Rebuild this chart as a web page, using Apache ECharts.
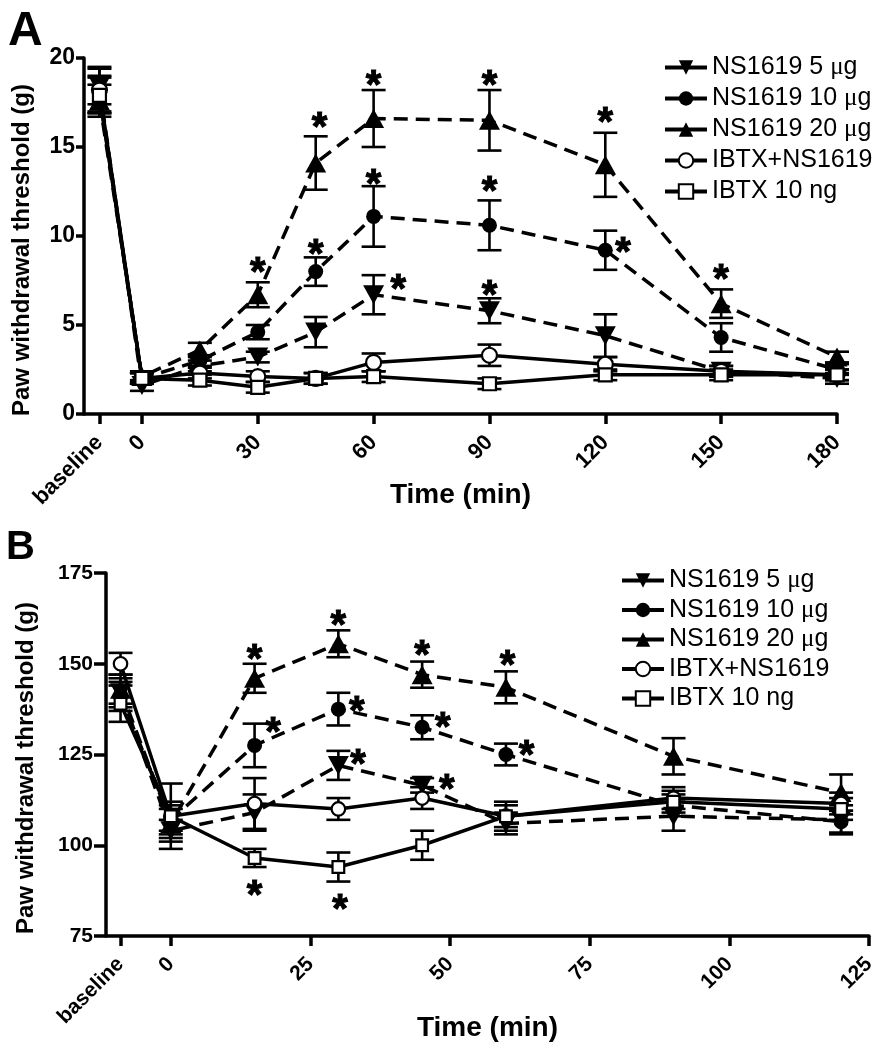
<!DOCTYPE html>
<html><head><meta charset="utf-8">
<script src="https://cdn.jsdelivr.net/npm/echarts@6/dist/echarts.min.js"></script>
<style>html,body{margin:0;padding:0;background:#fff}#c{width:882px;height:1050px}</style>
</head><body><div id="c"></div>
<script>
// ---------- shared ----------
const seriesNames = ['NS1619 5 μg', 'NS1619 10 μg', 'NS1619 20 μg', 'IBTX+NS1619', 'IBTX 10 ng'];

// ---------- Panel A ----------
const timesA = [-11, 0, 15, 30, 45, 60, 90, 120, 150, 180]; // -11 = "baseline"
const tickValuesA = [-11, 0, 30, 60, 90, 120, 150, 180];
const tickLabelsA = ['baseline', '0', '30', '60', '90', '120', '150', '180'];
const ns5A      = [18.4, 1.6, 2.7, 3.2, 4.6, 6.7, 5.8, 4.4, 2.4, 2.0];
const ns5A_err  = [1.0, 0.3, 0.3, 0.3, 0.85, 1.1, 0.7, 1.2, 0.3, 0.3];
const ns10A     = [18.0, 2.0, 3.0, 4.6, 8.0, 11.1, 10.6, 9.2, 4.3, 2.5];
const ns10A_err = [1.0, 0.3, 0.3, 0.4, 0.8, 1.7, 1.4, 1.1, 0.8, 0.3];
const ns20A     = [17.6, 2.1, 3.6, 6.7, 14.1, 16.6, 16.5, 14.0, 6.2, 3.2];
const ns20A_err = [0.9, 0.3, 0.4, 0.7, 1.5, 1.6, 1.7, 1.8, 0.8, 0.3];
const ibnsA     = [18.2, 2.0, 2.3, 2.1, 2.0, 2.9, 3.3, 2.8, 2.4, 2.2];
const ibnsA_err = [1.3, 0.3, 0.3, 0.3, 0.3, 0.5, 0.6, 0.4, 0.3, 0.3];
const ibA       = [17.9, 2.0, 1.9, 1.5, 2.0, 2.1, 1.7, 2.2, 2.2, 2.2];
const ibA_err   = [1.0, 0.3, 0.3, 0.3, 0.3, 0.3, 0.3, 0.3, 0.3, 0.3];
const starsA = [[30, 8.4], [46, 16.5], [60, 18.9], [90, 18.9], [120, 16.8], [150, 8.0],
                [45, 9.4], [60, 13.3], [90, 12.9], [124.6, 9.5], [66.4, 7.4], [90, 7.1]];

// ---------- Panel B ----------
const timesB = [-9, 0, 15, 30, 45, 60, 90, 120]; // -9 = "baseline"
const tickValuesB = [-9, 0, 25, 50, 75, 100, 125];
const tickLabelsB = ['baseline', '0', '25', '50', '75', '100', '125'];
const ns5B      = [142, 104, 109, 122, 116.5, 106, 108, 107];
const ns5B_err  = [4, 3, 5, 4, 2, 3, 4, 4];
const ns10B     = [141, 107, 127.5, 137.5, 132.5, 125, 111, 106.5];
const ns10B_err = [4, 4, 6, 4.5, 3.3, 3, 3, 3];
const ns20B     = [143, 106, 146, 155.5, 147, 143.5, 124.5, 114.5];
const ns20B_err = [4, 4, 4, 3.7, 3.6, 4.4, 5, 5];
const ibnsB     = [150, 108, 111.5, 110, 113, 108, 113, 111.5];
const ibnsB_err = [3, 9, 7, 3, 3, 4, 3, 3];
const ibB       = [139, 108, 96.5, 94, 100, 108, 112, 110];
const ibB_err   = [5, 4, 2.5, 4, 4, 3, 3, 3];
const starsB = [[15, 153.2], [30, 162.6], [45, 154.3], [60.3, 151.6], [18.3, 133], [33.3, 139],
                [48.7, 134.5], [63.7, 126.8], [33.5, 124.3], [49.4, 117.4], [15, 88.2], [30.3, 84.4]];

// ---------- build ----------
const FONT = '"Liberation Sans", Arial, sans-serif';
const downTri = 'path://M0,0L20,0L10,18Z';
const styles = [
  {symbol: downTri, size: [21, 19], dashed: true, empty: false},
  {symbol: 'circle', size: 15, dashed: true, empty: false},
  {symbol: 'triangle', size: [21, 19], dashed: true, empty: false},
  {symbol: 'circle', size: 15, dashed: false, empty: true},
  {symbol: 'rect', size: 13, dashed: false, empty: true}
];

function zip(xs, ys) { return xs.map((x, i) => [x, ys[i]]); }
function errData(xs, ys, es) { return xs.map((x, i) => [x, ys[i] - es[i], ys[i] + es[i]]); }

function errRender(params, api) {
  const x = api.value(0), lo = api.value(1), hi = api.value(2);
  const p1 = api.coord([x, hi]), p2 = api.coord([x, lo]);
  const w = 12;
  const st = {stroke: '#000', lineWidth: 2.6, fill: null};
  return {type: 'group', children: [
    {type: 'line', shape: {x1: p1[0], y1: p1[1], x2: p2[0], y2: p2[1]}, style: st},
    {type: 'line', shape: {x1: p1[0] - w, y1: p1[1], x2: p1[0] + w, y2: p1[1]}, style: st},
    {type: 'line', shape: {x1: p2[0] - w, y1: p2[1], x2: p2[0] + w, y2: p2[1]}, style: st}
  ]};
}

function panelSeries(idx, suffix, xs, vals, errs, stars, emptyScale) {
  const out = [];
  vals.forEach((v, k) => {
    out.push({
      type: 'custom', xAxisIndex: idx, yAxisIndex: idx, z: 1, silent: true,
      renderItem: errRender, encode: {x: 0, y: [1, 2]},
      data: errData(xs, v, errs[k])
    });
  });
  vals.forEach((v, k) => {
    const s = styles[k];
    let sz = s.size;
    if (emptyScale && s.empty) sz = sz * emptyScale;
    out.push({
      type: 'line', name: seriesNames[k] + suffix, xAxisIndex: idx, yAxisIndex: idx, z: 2 + k,
      data: zip(xs, v), symbol: s.symbol, symbolSize: sz, showAllSymbol: true,
      lineStyle: {color: '#000', width: 3.5, type: s.dashed ? [14, 8] : 'solid'},
      itemStyle: s.empty ? {color: '#fff', borderColor: '#000', borderWidth: 2.2} : {color: '#000', borderWidth: 0},
      emphasis: {disabled: true}
    });
  });
  out.push({
    type: 'scatter', xAxisIndex: idx, yAxisIndex: idx, z: 10, symbolSize: 0, silent: true,
    itemStyle: {opacity: 1, color: '#000'},
    data: stars,
    label: {show: true, formatter: '*', position: 'inside', offset: [0, 9], opacity: 1,
      fontSize: 40, fontWeight: 'bold', color: '#000', fontFamily: FONT,
      textBorderColor: '#000', textBorderWidth: 1}
  });
  return out;
}

function xAxisCfg(idx, min, max, ticks, labels, nameGap, fs) {
  return {
    gridIndex: idx, type: 'value', min: min, max: max,
    axisLine: {show: true, onZero: false, lineStyle: {color: '#000', width: 3.5}},
    axisTick: {show: true, customValues: ticks, length: 10, lineStyle: {color: '#000', width: 3.5}},
    axisLabel: {customValues: ticks, rotate: 45, margin: 25,
      formatter: v => { const i = ticks.indexOf(v); return i >= 0 ? labels[i] : ''; },
      fontSize: fs, fontWeight: 'bold', color: '#000', fontFamily: FONT},
    splitLine: {show: false},
    name: 'Time (min)', nameLocation: 'middle', nameGap: nameGap, nameMoveOverlap: false,
    nameTextStyle: {fontSize: 28, fontWeight: 'bold', color: '#000', fontFamily: FONT}
  };
}
function yAxisCfg(idx, min, max, interval, fs, tl) {
  return {
    gridIndex: idx, type: 'value', min: min, max: max, interval: interval,
    axisLine: {show: true, onZero: false, lineStyle: {color: '#000', width: 3.5}},
    axisTick: {show: true, length: tl, lineStyle: {color: '#000', width: 3.5}},
    axisLabel: {fontSize: fs, fontWeight: 'bold', color: '#000', fontFamily: FONT, margin: tl + 1},
    splitLine: {show: false}
  };
}
function legendCfg(names, left, top, w, gap) {
  return {
    data: names, orient: 'vertical', left: left, top: top, itemWidth: w, itemHeight: 18, itemGap: gap,
    selectedMode: false,
    lineStyle: {type: 'solid', width: 4, color: '#000'},
    formatter: n => n.trim().replace('μ', '{s|μ}'),
    textStyle: {fontSize: 25, color: '#000', fontFamily: FONT,
      rich: {s: {fontSize: 25, fontFamily: '"Liberation Serif", serif', color: '#000'}}}
  };
}

const chart = echarts.init(document.getElementById('c'), null, {renderer: 'canvas'});
const option = {
  animation: false,
  backgroundColor: '#fff',
  grid: [
    {left: 84, top: 58, width: 753, height: 356},
    {left: 106, top: 573, width: 763, height: 363}
  ],
  xAxis: [xAxisCfg(0, -15, 180, tickValuesA, tickLabelsA, 67, 22), xAxisCfg(1, -11.6, 125, tickValuesB, tickLabelsB, 78, 21)],
  yAxis: [yAxisCfg(0, 0, 20, 5, 23, 8), yAxisCfg(1, 75, 175, 25, 21, 12)],
  legend: [
    legendCfg(seriesNames, 658, 50, 42, 6),
    legendCfg(seriesNames.map(n => n + ' '), 615, 563, 42, 4.5)
  ],
  series: [].concat(
    panelSeries(0, '', timesA, [ns5A, ns10A, ns20A, ibnsA, ibA], [ns5A_err, ns10A_err, ns20A_err, ibnsA_err, ibA_err], starsA),
    panelSeries(1, ' ', timesB, [ns5B, ns10B, ns20B, ibnsB, ibB], [ns5B_err, ns10B_err, ns20B_err, ibnsB_err, ibB_err], starsB, 0.9)
  ),
  graphic: [
    {type: 'text', left: 8, top: 8, style: {text: 'A', font: 'bold 48px ' + FONT, fill: '#000'}},
    {type: 'text', left: 6, top: 528, style: {text: 'B', font: 'bold 40px ' + FONT, fill: '#000'}},
    {type: 'text', x: 22, y: 250, rotation: Math.PI / 2,
      style: {text: 'Paw withdrawal threshold (g)', align: 'center', verticalAlign: 'middle', font: 'bold 24px ' + FONT, fill: '#000'}},
    {type: 'text', x: 26, y: 768, rotation: Math.PI / 2,
      style: {text: 'Paw withdrawal threshold (g)', align: 'center', verticalAlign: 'middle', font: 'bold 24px ' + FONT, fill: '#000'}}
  ]
};
chart.setOption(option);
</script></body></html>
